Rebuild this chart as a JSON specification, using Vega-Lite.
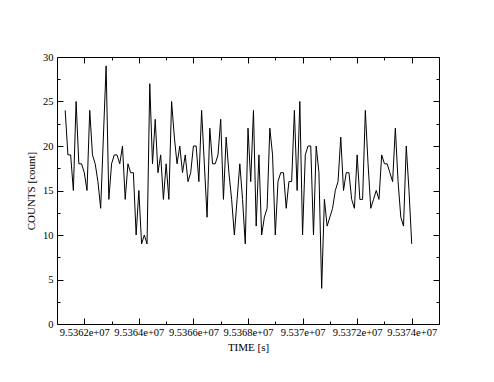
{
  "$schema": "https://vega.github.io/schema/vega-lite/v6.json",
  "width": 382,
  "height": 267,
  "autosize": {"type": "none"},
  "padding": {"left": 57, "top": 57, "right": 55, "bottom": 58},
  "background": "white",
  "config": {
    "view": {"stroke": "black", "strokeWidth": 1},
    "font": "Liberation Serif",
    "axis": {
      "labelFont": "Liberation Serif",
      "titleFont": "Liberation Serif",
      "labelFontSize": 10.5,
      "titleFontSize": 11,
      "titleFontWeight": "normal",
      "labelColor": "black",
      "titleColor": "black",
      "tickColor": "black",
      "domain": false,
      "grid": false
    }
  },
  "data": {"values": [
    {"t": 95361300, "c": 24}, {"t": 95361400, "c": 19}, {"t": 95361500, "c": 19}, {"t": 95361600, "c": 15},
    {"t": 95361700, "c": 25}, {"t": 95361800, "c": 18}, {"t": 95361900, "c": 18}, {"t": 95362000, "c": 17},
    {"t": 95362100, "c": 15}, {"t": 95362200, "c": 24}, {"t": 95362300, "c": 19}, {"t": 95362400, "c": 18},
    {"t": 95362500, "c": 16}, {"t": 95362600, "c": 13}, {"t": 95362700, "c": 21}, {"t": 95362800, "c": 29},
    {"t": 95362900, "c": 14}, {"t": 95363000, "c": 18}, {"t": 95363100, "c": 19}, {"t": 95363200, "c": 19},
    {"t": 95363300, "c": 18}, {"t": 95363400, "c": 20}, {"t": 95363500, "c": 14}, {"t": 95363600, "c": 18},
    {"t": 95363700, "c": 17}, {"t": 95363800, "c": 17}, {"t": 95363900, "c": 10}, {"t": 95364000, "c": 15},
    {"t": 95364100, "c": 9}, {"t": 95364200, "c": 10}, {"t": 95364300, "c": 9}, {"t": 95364400, "c": 27},
    {"t": 95364500, "c": 18}, {"t": 95364600, "c": 23}, {"t": 95364700, "c": 17}, {"t": 95364800, "c": 19},
    {"t": 95364900, "c": 14}, {"t": 95365000, "c": 18}, {"t": 95365100, "c": 14}, {"t": 95365200, "c": 25},
    {"t": 95365300, "c": 21}, {"t": 95365400, "c": 18}, {"t": 95365500, "c": 20}, {"t": 95365600, "c": 17},
    {"t": 95365700, "c": 19}, {"t": 95365800, "c": 16}, {"t": 95365900, "c": 17}, {"t": 95366000, "c": 20},
    {"t": 95366100, "c": 20}, {"t": 95366200, "c": 16}, {"t": 95366300, "c": 24}, {"t": 95366400, "c": 18},
    {"t": 95366500, "c": 12}, {"t": 95366600, "c": 22}, {"t": 95366700, "c": 18}, {"t": 95366800, "c": 18},
    {"t": 95366900, "c": 19}, {"t": 95367000, "c": 23}, {"t": 95367100, "c": 14}, {"t": 95367200, "c": 21},
    {"t": 95367300, "c": 17}, {"t": 95367400, "c": 14}, {"t": 95367500, "c": 10}, {"t": 95367600, "c": 14},
    {"t": 95367700, "c": 18}, {"t": 95367800, "c": 14}, {"t": 95367900, "c": 9}, {"t": 95368000, "c": 22},
    {"t": 95368100, "c": 16}, {"t": 95368200, "c": 24}, {"t": 95368300, "c": 11}, {"t": 95368400, "c": 19},
    {"t": 95368500, "c": 10}, {"t": 95368600, "c": 12}, {"t": 95368700, "c": 13}, {"t": 95368800, "c": 22},
    {"t": 95368900, "c": 19}, {"t": 95369000, "c": 10}, {"t": 95369100, "c": 16}, {"t": 95369200, "c": 17},
    {"t": 95369300, "c": 17}, {"t": 95369400, "c": 13}, {"t": 95369500, "c": 16}, {"t": 95369600, "c": 16},
    {"t": 95369700, "c": 24}, {"t": 95369800, "c": 15}, {"t": 95369900, "c": 25}, {"t": 95370000, "c": 10},
    {"t": 95370100, "c": 19}, {"t": 95370200, "c": 20}, {"t": 95370300, "c": 20}, {"t": 95370400, "c": 10},
    {"t": 95370500, "c": 20}, {"t": 95370600, "c": 17}, {"t": 95370700, "c": 4}, {"t": 95370800, "c": 14},
    {"t": 95370900, "c": 11}, {"t": 95371000, "c": 12}, {"t": 95371100, "c": 13}, {"t": 95371200, "c": 15},
    {"t": 95371300, "c": 16}, {"t": 95371400, "c": 21}, {"t": 95371500, "c": 15}, {"t": 95371600, "c": 17},
    {"t": 95371700, "c": 17}, {"t": 95371800, "c": 14}, {"t": 95371900, "c": 13}, {"t": 95372000, "c": 19},
    {"t": 95372100, "c": 14}, {"t": 95372200, "c": 14}, {"t": 95372300, "c": 24}, {"t": 95372400, "c": 18},
    {"t": 95372500, "c": 13}, {"t": 95372600, "c": 14}, {"t": 95372700, "c": 15}, {"t": 95372800, "c": 14},
    {"t": 95372900, "c": 19}, {"t": 95373000, "c": 18}, {"t": 95373100, "c": 18}, {"t": 95373200, "c": 17},
    {"t": 95373300, "c": 16}, {"t": 95373400, "c": 22}, {"t": 95373500, "c": 16}, {"t": 95373600, "c": 12},
    {"t": 95373700, "c": 11}, {"t": 95373800, "c": 20}, {"t": 95373900, "c": 15}, {"t": 95374000, "c": 9}
  ]},
  "resolve": {"axis": {"x": "independent", "y": "independent"}},
  "layer": [
    {
      "mark": {"type": "line", "color": "black", "strokeWidth": 1, "interpolate": "linear"},
      "encoding": {
        "x": {
          "field": "t", "type": "quantitative",
          "scale": {"domain": [95361000, 95375000], "nice": false, "zero": false},
          "axis": {
            "orient": "bottom",
            "title": "TIME [s]",
            "values": [95362000, 95363000, 95364000, 95365000, 95366000, 95367000, 95368000, 95369000, 95370000, 95371000, 95372000, 95373000, 95374000],
            "labelExpr": "datum.value % 2000 == 0 ? replace(format(datum.value, '.5~g'), 'e+7', 'e+07') : ''",
            "tickSize": {"condition": {"test": "datum.value % 2000 != 0", "value": -3}, "value": -6},
            "labelPadding": 9,
            "titlePadding": 1,
            "labelFlush": false,
            "labelOverlap": false
          }
        },
        "y": {
          "field": "c", "type": "quantitative",
          "scale": {"domain": [0, 30], "nice": false},
          "axis": {
            "orient": "left",
            "title": "COUNTS [count]",
            "values": [0, 2.5, 5, 7.5, 10, 12.5, 15, 17.5, 20, 22.5, 25, 27.5, 30],
            "labelExpr": "datum.value % 5 == 0 ? format(datum.value, 'd') : ''",
            "tickSize": {"condition": {"test": "datum.value % 5 != 0", "value": -3}, "value": -6},
            "labelPadding": 10,
            "titlePadding": 6,
            "labelFlush": false,
            "labelOverlap": false
          }
        }
      }
    },
    {
      "mark": {"type": "line", "opacity": 0},
      "encoding": {
        "x": {
          "field": "t", "type": "quantitative",
          "axis": {
            "orient": "top",
            "title": null,
            "labels": false,
            "values": [95362000, 95363000, 95364000, 95365000, 95366000, 95367000, 95368000, 95369000, 95370000, 95371000, 95372000, 95373000, 95374000],
            "tickSize": {"condition": {"test": "datum.value % 2000 != 0", "value": -3}, "value": -6}
          }
        },
        "y": {
          "field": "c", "type": "quantitative",
          "axis": {
            "orient": "right",
            "title": null,
            "labels": false,
            "values": [0, 2.5, 5, 7.5, 10, 12.5, 15, 17.5, 20, 22.5, 25, 27.5, 30],
            "tickSize": {"condition": {"test": "datum.value % 5 != 0", "value": -3}, "value": -6}
          }
        }
      }
    }
  ]
}
